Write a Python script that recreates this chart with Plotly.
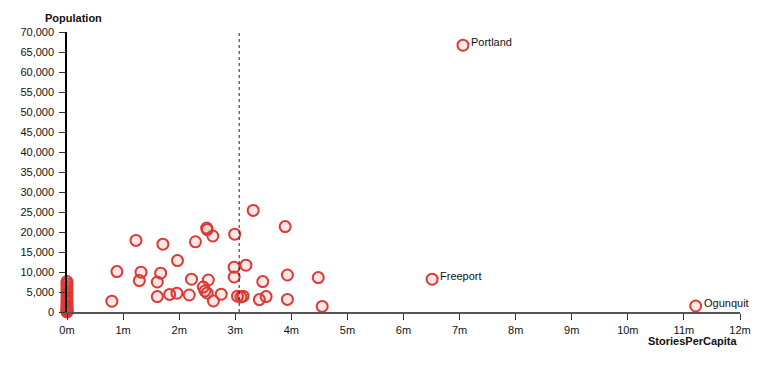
import plotly.graph_objects as go

# ---- data ----
# StoriesPerCapita in thousandths ("m" = milli)
stories_milli = [
    0, 0, 0, 0, 0, 0, 0, 0, 0, 0, 0, 0, 0, 0, 0, 0,
    0.80, 0.89, 1.23, 1.32, 1.29, 1.61, 1.67, 1.71, 1.61, 1.83,
    1.96, 1.97, 2.18, 2.22, 2.29, 2.49, 2.50, 2.60, 2.43, 2.46,
    2.50, 2.52, 2.61, 2.75, 2.99, 2.98, 2.98, 3.04, 3.10, 3.14,
    3.19, 3.32, 3.43, 3.49, 3.55, 3.89, 3.93, 3.93, 4.48, 4.55,
    6.51, 7.06, 11.21,
]
population = [
    7600, 7000, 6400, 5800, 5200, 4400, 3600, 2900, 2300, 1700, 1200, 800, 500, 300, 100, 0,
    2700, 10100, 17900, 9950, 7850, 7500, 9700, 16950, 3850, 4400,
    4700, 12850, 4250, 8200, 17550, 21000, 20600, 19000, 6250, 5250,
    4750, 8000, 2750, 4450, 19450, 11200, 8750, 3950, 3750, 3950,
    11700, 25400, 3100, 7600, 3850, 21350, 9250, 3150, 8600, 1400,
    8200, 66700, 1500,
]
town_labels = [""] * 56 + ["Freeport", "Portland", "Ogunquit"]
mean_stories_milli = 3.07

x_tick_vals_milli = list(range(0, 13))
x_tick_text = [f"{v}m" for v in x_tick_vals_milli]
y_tick_vals = list(range(0, 70001, 5000))

x_vals = [v * 0.001 for v in stories_milli]

font = "Liberation Sans, Arial, Helvetica, sans-serif"

fig = go.Figure()
fig.add_trace(go.Scatter(
    x=x_vals, y=population, mode="markers",
    marker=dict(size=11, color="rgba(225,60,60,0.12)",
                line=dict(color="#dc3a34", width=2)),
    cliponaxis=False, hoverinfo="x+y",
))

fig.add_shape(type="line", xref="x", yref="y",
              x0=mean_stories_milli * 0.001, x1=mean_stories_milli * 0.001,
              y0=0, y1=70000, line=dict(color="#222", width=1, dash="dot"))

for xv, yv, name in zip(x_vals, population, town_labels):
    if name:
        fig.add_annotation(x=xv, y=yv, text=name, showarrow=False,
                           xanchor="left", yanchor="middle", xshift=6, yshift=3,
                           font=dict(family=font, size=11, color="#111"))

fig.add_annotation(xref="paper", yref="paper", x=0, y=1, text="<b>Population</b>",
                   showarrow=False, xanchor="left", yanchor="middle",
                   xshift=-24, yshift=14, font=dict(family=font, size=11, color="#111"))
fig.add_annotation(xref="paper", yref="paper", x=1, y=0, text="<b>StoriesPerCapita</b>",
                   showarrow=False, xanchor="right", yanchor="middle",
                   xshift=0, yshift=-29, font=dict(family=font, size=11, color="#111"))

fig.update_layout(
    width=767, height=365,
    margin=dict(l=59, r=35, t=24, b=61),
    paper_bgcolor="white", plot_bgcolor="white",
    showlegend=False,
    font=dict(family=font, size=11, color="#111"),
    xaxis=dict(range=[0, 0.012], tickvals=[v * 0.001 for v in x_tick_vals_milli],
               ticktext=x_tick_text, showgrid=False, zeroline=False,
               showline=True, linecolor="#555", linewidth=1.5,
               ticks="outside", ticklen=6, tickcolor="#333", tickwidth=1,
               ticklabelstandoff=1,
               tickfont=dict(family=font, size=11, color="#111")),
    yaxis=dict(range=[0, 70000], tickvals=y_tick_vals, tickformat=",",
               showgrid=False, zeroline=False,
               showline=True, linecolor="#000", linewidth=1.5,
               ticks="outside", ticklen=6, tickcolor="#333", tickwidth=1,
               ticklabelstandoff=3,
               tickfont=dict(family=font, size=11, color="#111")),
)

fig.write_html("out.html")
